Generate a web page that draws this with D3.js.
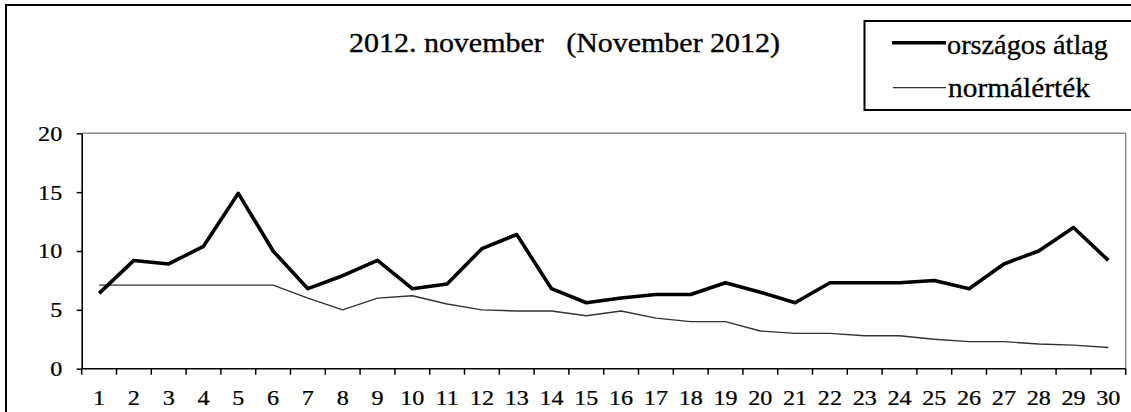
<!DOCTYPE html>
<html>
<head>
<meta charset="utf-8">
<script src="https://cdn.jsdelivr.net/npm/d3@7"></script>
<style>
  html, body { margin: 0; padding: 0; background: #fff; }
  svg text { font-family: "Liberation Serif", "Times New Roman", "DejaVu Serif", serif; }
</style>
</head>
<body>
<svg id="chart" width="1131" height="412"></svg>
<script>
// ---- data ----
const days = d3.range(1, 31).map(String);
const orszagosAtlag = [6.4, 9.2, 8.9, 10.4, 14.9, 10.0, 6.8, 7.9, 9.2, 6.8,
                       7.2, 10.2, 11.4, 6.8, 5.6, 6.0, 6.3, 6.3, 7.3, 6.5,
                       5.6, 7.3, 7.3, 7.3, 7.5, 6.8, 8.9, 10.0, 12.0, 9.2];
const normalertek = [7.1, 7.1, 7.1, 7.1, 7.1, 7.1, 6.0, 5.0, 6.0, 6.2,
                     5.5, 5.0, 4.9, 4.9, 4.5, 4.9, 4.3, 4.0, 4.0, 3.2,
                     3.0, 3.0, 2.8, 2.8, 2.5, 2.3, 2.3, 2.1, 2.0, 1.8];
const yTicks = [0, 5, 10, 15, 20];
const titleText = "2012. november\u00a0\u00a0 (November 2012)";
const seriesNames = ["országos átlag", "normálérték"];

// ---- layout ----
const FONT = '"Liberation Serif", "Times New Roman", serif';
const svg = d3.select("#chart");
const plot = { left: 81.7, right: 1125.7, top: 133.3, bottom: 368.7 };

const x = d3.scaleBand().domain(days).range([plot.left, plot.right]).paddingInner(0).paddingOuter(0);
const y = d3.scaleLinear().domain([0, 20]).range([plot.bottom, plot.top]);

// outer frame
svg.append("rect")
  .attr("x", 6).attr("y", 5).attr("width", 1200).attr("height", 500)
  .attr("fill", "none").attr("stroke", "#000").attr("stroke-width", 2);

// top & right plot border (gray)
svg.append("path")
  .attr("d", `M${plot.left},${y(20)}H${plot.right}V${plot.bottom}`)
  .attr("fill", "none").attr("stroke", "#8c8c8c").attr("stroke-width", 1.5);

// title
svg.append("text")
  .attr("x", 349).attr("y", 52)
  .attr("font-family", FONT).attr("font-size", 27)
  .attr("stroke", "#000").attr("stroke-width", 0.35)
  .attr("textLength", 431).attr("lengthAdjust", "spacingAndGlyphs")
  .text(titleText);

// legend
const leg = svg.append("g");
leg.append("rect")
  .attr("x", 864.5).attr("y", 21).attr("width", 400).attr("height", 89)
  .attr("fill", "#fff").attr("stroke", "#000").attr("stroke-width", 2);
leg.append("line").attr("x1", 892).attr("x2", 946).attr("y1", 42.7).attr("y2", 42.7)
  .attr("stroke", "#000").attr("stroke-width", 3.5);
leg.append("text").attr("x", 947).attr("y", 54)
  .attr("font-family", FONT).attr("font-size", 27)
  .attr("stroke", "#000").attr("stroke-width", 0.3)
  .attr("textLength", 161).attr("lengthAdjust", "spacingAndGlyphs").text(seriesNames[0]);
leg.append("line").attr("x1", 893).attr("x2", 946).attr("y1", 87.7).attr("y2", 87.7)
  .attr("stroke", "#333").attr("stroke-width", 1.3);
leg.append("text").attr("x", 948).attr("y", 97)
  .attr("font-family", FONT).attr("font-size", 27)
  .attr("stroke", "#000").attr("stroke-width", 0.3)
  .attr("textLength", 142).attr("lengthAdjust", "spacingAndGlyphs").text(seriesNames[1]);

// y axis
const yAxis = svg.append("g")
  .attr("transform", `translate(${plot.left},0)`)
  .call(d3.axisLeft(y).tickValues(yTicks).tickSize(5).tickSizeOuter(0))
  .attr("font-family", FONT);
yAxis.select(".domain").attr("stroke", "#000").attr("stroke-width", 1.6);
yAxis.selectAll(".tick line").attr("stroke", "#000").attr("stroke-width", 1.5);
yAxis.selectAll(".tick text")
  .attr("font-family", FONT).attr("font-size", 21).attr("fill", "#000")
  .attr("stroke", "#000").attr("stroke-width", 0.25)
  .attr("x", 0).attr("dy", "0.33em")
  .attr("transform", "translate(-19.5,0) scale(1.15,1)");

// x axis: ticks at band boundaries, labels centered
const xAxisG = svg.append("g").attr("transform", `translate(0,${plot.bottom})`);
xAxisG.append("line").attr("x1", plot.left).attr("x2", plot.right)
  .attr("stroke", "#000").attr("stroke-width", 1.6);
const boundaries = days.map(d => x(d)).concat([x(days[days.length - 1]) + x.bandwidth()]);
xAxisG.selectAll("line.tk").data(boundaries).join("line").attr("class", "tk")
  .attr("x1", d => d).attr("x2", d => d).attr("y1", 0).attr("y2", 6)
  .attr("stroke", "#000").attr("stroke-width", 1.5);
xAxisG.selectAll("text.lbl").data(days).join("text").attr("class", "lbl")
  .attr("text-anchor", "middle").attr("font-family", FONT).attr("font-size", 21)
  .attr("stroke", "#000").attr("stroke-width", 0.25)
  .attr("transform", d => `translate(${x(d) + x.bandwidth() / 2},36) scale(1.15,1)`)
  .text(d => d);

// lines
const line = d3.line()
  .x((d, i) => x(days[i]) + x.bandwidth() / 2)
  .y(d => y(d));

svg.append("path").datum(normalertek)
  .attr("d", line).attr("fill", "none")
  .attr("stroke", "#333").attr("stroke-width", 1.4).attr("stroke-linejoin", "round");

svg.append("path").datum(orszagosAtlag)
  .attr("d", line).attr("fill", "none")
  .attr("stroke", "#000").attr("stroke-width", 3.6).attr("stroke-linejoin", "round");
</script>
</body>
</html>
